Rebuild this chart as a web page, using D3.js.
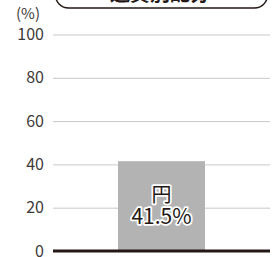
<!DOCTYPE html>
<html>
<head>
<meta charset="utf-8">
<script src="https://cdn.jsdelivr.net/npm/d3@7"></script>
<style>
  html, body { margin: 0; padding: 0; background: #fff; }
  svg { display: block; }
</style>
</head>
<body>
<svg id="chart"></svg>
<script>
// data
var categories = ["円"];
var values = [41.5];
var yTicks = [0, 20, 40, 60, 80, 100];
var title = "通貨別配分";
var unitLabel = "(%)";

var width = 273, height = 257;
var margin = {top: 34.5, right: 3, bottom: 6, left: 53};
var font = "'Noto Sans CJK JP', 'Noto Sans', sans-serif";

var svg = d3.select("#chart")
    .attr("width", width)
    .attr("height", height);

var x = d3.scaleBand()
    .domain(categories)
    .range([margin.left, width - margin.right])
    .padding(0.4276);

var y = d3.scaleLinear()
    .domain([0, 100])
    .range([height - margin.bottom, margin.top]);

// title box (clipped by the top edge)
svg.append("rect")
    .attr("x", 55.5).attr("y", -22)
    .attr("width", 212).attr("height", 30)
    .attr("rx", 13)
    .attr("fill", "#fff")
    .attr("stroke", "#231815")
    .attr("stroke-width", 1.5);
svg.append("text")
    .attr("x", 160).attr("y", 1)
    .attr("text-anchor", "middle")
    .style("font-family", font)
    .style("font-size", "20px")
    .style("font-weight", "bold")
    .style("fill", "#231815")
    .text(title);

// grid lines
svg.append("g")
    .selectAll("line")
    .data(yTicks.filter(function(d) { return d > 0; }))
    .enter().append("line")
    .attr("x1", margin.left).attr("x2", width - margin.right)
    .attr("y1", function(d) { return y(d) + 0.5; })
    .attr("y2", function(d) { return y(d) + 0.5; })
    .attr("stroke", "#c9c9c9")
    .attr("stroke-width", 1);

// y axis labels
var yAxis = d3.axisLeft(y).tickValues(yTicks).tickSize(0).tickPadding(9);
var gy = svg.append("g")
    .attr("transform", `translate(${margin.left}, 0)`)
    .call(yAxis);
gy.select(".domain").remove();
gy.selectAll("text")
    .style("font-family", font)
    .style("font-size", "16px")
    .style("fill", "#3e3a39");

svg.append("text")
    .attr("x", 28).attr("y", 19)
    .attr("text-anchor", "middle")
    .style("font-family", font)
    .style("font-size", "15px")
    .style("fill", "#3e3a39")
    .text(unitLabel);

// bars
svg.append("g")
    .selectAll("rect")
    .data(values)
    .enter().append("rect")
    .attr("x", function(d, i) { return x(categories[i]); })
    .attr("y", function(d) { return y(d); })
    .attr("width", x.bandwidth())
    .attr("height", function(d) { return y(0) - y(d); })
    .attr("fill", "#b3b3b3");

// baseline
svg.append("line")
    .attr("x1", margin.left).attr("x2", width - margin.right)
    .attr("y1", y(0)).attr("y2", y(0))
    .attr("stroke", "#231815")
    .attr("stroke-width", 3);

// bar labels, white halo via paint-order
var labels = svg.append("g")
    .selectAll("text")
    .data(values)
    .enter().append("text")
    .attr("transform", function(d, i) {
        return `translate(${x(categories[i]) + x.bandwidth() / 2}, 0)`;
    })
    .attr("text-anchor", "middle")
    .style("font-family", font)
    .style("fill", "#231815")
    .attr("stroke", "#fff")
    .attr("stroke-width", 3.5)
    .attr("stroke-linejoin", "round")
    .style("paint-order", "stroke");

labels.append("tspan")
    .attr("x", 0).attr("y", 202)
    .style("font-size", "20px")
    .text(function(d, i) { return categories[i]; });
labels.append("tspan")
    .attr("x", 0).attr("y", 224)
    .style("font-size", "21px")
    .text(function(d) { return d + "%"; });
</script>
</body>
</html>
